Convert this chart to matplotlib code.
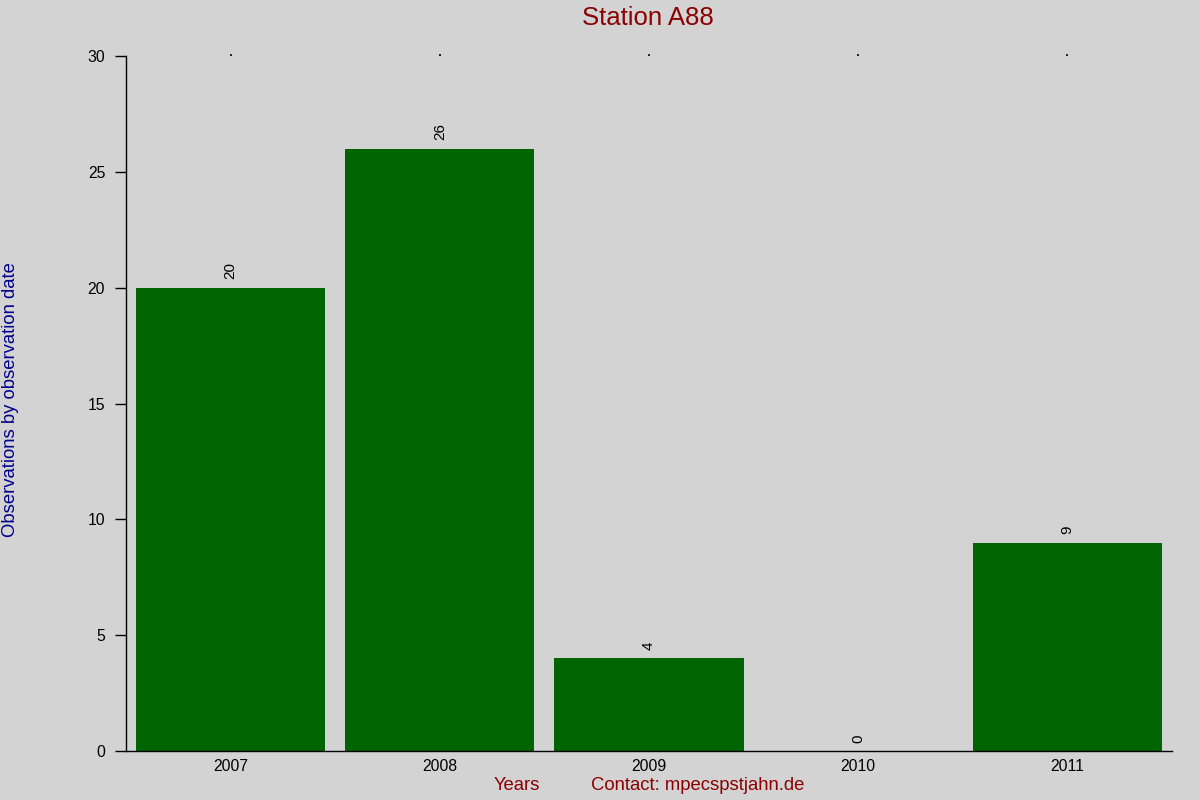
import numpy as np
import matplotlib
matplotlib.use("Agg")
import matplotlib.pyplot as plt

plt.rcParams['font.family'] = ['Liberation Sans', 'DejaVu Sans']

# data
years = ['2007', '2008', '2009', '2010', '2011']
observations = [20, 26, 4, 0, 9]

bg = '#d3d3d3'
bar_color = '#006400'
red = '#8b0000'
blue = '#00008b'

fig = plt.figure(figsize=(12, 8), dpi=100, facecolor=bg)
ax = fig.add_axes([0.105, 0.06125, 0.8717, 0.86875])
ax.set_facecolor(bg)

x = np.arange(len(years))
bars = ax.bar(x, observations, width=0.905, color=bar_color)

# value labels, rotated, above each bar
for rect, val in zip(bars, observations):
    ax.annotate(str(val), (rect.get_x() + rect.get_width() / 2, rect.get_height()),
                xytext=(0, 6), textcoords='offset points',
                ha='center', va='bottom', rotation=90, fontsize=11)

ax.set_xlim(-0.5, len(years) - 0.5)
ax.set_ylim(0, 30)
ax.set_yticks(range(0, 31, 5))
ax.set_xticks(x)
ax.set_xticklabels(years)

for s in ['top', 'right']:
    ax.spines[s].set_visible(False)
ax.spines['left'].set_linewidth(1)
ax.spines['bottom'].set_linewidth(1)

ax.tick_params(axis='y', direction='out', length=8, width=1, pad=7, labelsize=11.3)
ax.tick_params(axis='x', length=0, pad=6, labelsize=11.3)

# tiny marks along the top edge at each category
top = ax.secondary_xaxis('top')
top.set_xticks(x)
top.set_xticklabels([])
top.tick_params(length=1.2, width=1.2, color='black')
top.spines['top'].set_visible(False)

fig.text(0.54, 0.977, 'Station A88', ha='center', va='center', color=red, fontsize=18.5)
fig.text(0.009, 0.5, 'Observations by observation date', rotation=90,
         ha='center', va='center', color=blue, fontsize=13.3)
fig.text(0.431, 0.0175, 'Years', ha='center', va='center', color=red, fontsize=13.3)
fig.text(0.5817, 0.0175, 'Contact: mpecspstjahn.de', ha='center', va='center', color=red, fontsize=13.3)

fig.savefig('out.png', dpi=100, facecolor=bg)
